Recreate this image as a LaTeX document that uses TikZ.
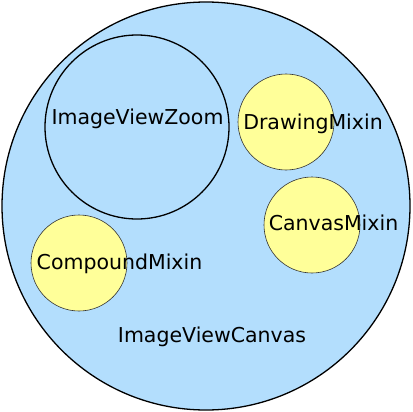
\documentclass[tikz,border=0pt]{standalone}
\usepackage{fontspec}
\setmainfont{DejaVu Sans}
\usepackage{tikz}
\usetikzlibrary{positioning}
\definecolor{canvasblue}{RGB}{179,222,253}
\definecolor{mixinyellow}{RGB}{255,255,153}

\tikzset{
  bigring/.style={circle,draw=black,line width=1.3pt,inner sep=0pt},
  mixin/.style={circle,draw=black!80,fill=mixinyellow,line width=0.6pt,inner sep=0pt,minimum size=96pt},
  lbl/.style={inner sep=0pt,anchor=base,font=\fontsize{20.5}{24}\selectfont}
}

\begin{document}
\begin{tikzpicture}[x=1pt,y=-1pt]
  \useasboundingbox (0,0) rectangle (412,412);
  % outer canvas and zoom ring
  \node[bigring,fill=canvasblue,minimum size=408pt] (canvas) at (206,206) {};
  \node[bigring,minimum size=184pt] (zoom) at (137,127) {};
  % mixins
  \node[mixin] (drawing) at (286,122) {};
  \node[mixin] (canvasmx) at (312,225) {};
  \node[mixin] (compound) at (79,263) {};
  % labels
  \node[lbl] (zoomtxt) at (137.5,124.5) {ImageViewZoom};
  \node[lbl] (drawtxt) at (313,129) {DrawingMixin};
  \node[lbl] (cmxtxt) at (333.5,230) {CanvasMixin};
  \node[lbl] (comptxt) at (119.5,269) {CompoundMixin};
  \node[lbl] (canvastxt) at (212,342) {ImageViewCanvas};
\end{tikzpicture}
\end{document}
